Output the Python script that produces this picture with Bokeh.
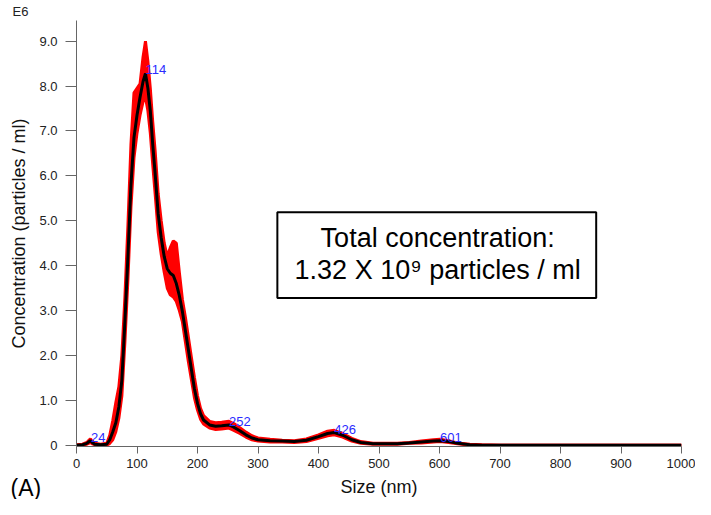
from bokeh.plotting import figure
from bokeh.models import Range1d, FixedTicker, Label, BoxAnnotation, ColumnDataSource, Title
from bokeh.embed import file_html
from bokeh.resources import INLINE
from bokeh.core.properties import value

# ---- data ----
size_nm = [0, 10, 17, 20, 23, 26, 30, 40, 50, 55, 60, 65, 70, 75, 80, 85, 90, 95,
           100, 105, 110, 114, 118, 122, 126, 130, 135, 140, 145, 150, 155, 160,
           165, 170, 175, 180, 185, 190, 195, 200, 205, 210, 220, 230, 240, 252,
           260, 270, 280, 290, 300, 320, 340, 360, 380, 400, 415, 426, 440, 455,
           470, 490, 510, 530, 550, 570, 590, 601, 615, 630, 650, 670, 700, 800,
           900, 1000]
conc_mean = [0.00, 0.01, 0.04, 0.07, 0.10, 0.06, 0.02, 0.01, 0.02, 0.12, 0.30, 0.50,
             0.85, 1.45, 2.75, 4.20, 5.80, 6.85, 7.35, 7.75, 8.10, 8.28, 7.95, 7.45,
             6.70, 6.05, 5.15, 4.62, 4.20, 3.93, 3.83, 3.78, 3.60, 3.33, 2.98, 2.55,
             2.12, 1.68, 1.25, 0.93, 0.70, 0.56, 0.45, 0.42, 0.43, 0.45, 0.40, 0.32,
             0.23, 0.16, 0.12, 0.10, 0.09, 0.08, 0.11, 0.19, 0.26, 0.28, 0.22, 0.12,
             0.06, 0.03, 0.03, 0.03, 0.05, 0.07, 0.09, 0.10, 0.08, 0.04, 0.01, 0.00,
             0.00, 0.00, 0.00, 0.00]
conc_upper = [0.01, 0.02, 0.06, 0.10, 0.14, 0.09, 0.04, 0.02, 0.04, 0.22, 0.55, 0.95,
              1.30, 2.00, 3.30, 4.90, 6.70, 7.85, 7.95, 8.05, 8.65, 9.00, 8.55, 7.95,
              7.20, 6.55, 5.60, 5.00, 4.50, 4.20, 4.40, 4.55, 4.50, 3.85, 3.25, 2.85,
              2.40, 1.95, 1.50, 1.10, 0.82, 0.66, 0.53, 0.50, 0.51, 0.53, 0.48, 0.39,
              0.29, 0.21, 0.16, 0.13, 0.11, 0.10, 0.14, 0.23, 0.31, 0.33, 0.26, 0.15,
              0.08, 0.04, 0.04, 0.04, 0.06, 0.09, 0.12, 0.13, 0.10, 0.05, 0.02, 0.01,
              0.00, 0.00, 0.00, 0.00]
conc_lower = [0.00, 0.00, 0.02, 0.04, 0.06, 0.03, 0.01, 0.00, 0.00, 0.04, 0.12, 0.30,
              0.60, 1.10, 2.30, 3.70, 5.30, 6.40, 6.95, 7.35, 7.65, 7.75, 7.45, 6.95,
              6.25, 5.60, 4.75, 4.25, 3.85, 3.50, 3.35, 3.30, 3.20, 3.00, 2.75, 2.30,
              1.85, 1.45, 1.05, 0.78, 0.58, 0.47, 0.38, 0.35, 0.36, 0.38, 0.33, 0.26,
              0.18, 0.12, 0.09, 0.07, 0.07, 0.06, 0.08, 0.15, 0.21, 0.23, 0.18, 0.09,
              0.04, 0.02, 0.02, 0.02, 0.04, 0.05, 0.07, 0.08, 0.06, 0.03, 0.00, 0.00,
              0.00, 0.00, 0.00, 0.00]

peak_sizes = [24, 114, 252, 426, 601]
peak_heights = [0.10, 8.28, 0.45, 0.28, 0.10]
peak_labels = ["24", "114", "252", "426", "601"]

x_ticks = [0, 100, 200, 300, 400, 500, 600, 700, 800, 900, 1000]
y_ticks = [0, 1, 2, 3, 4, 5, 6, 7, 8, 9]
y_tick_labels = ["0", "1.0", "2.0", "3.0", "4.0", "5.0", "6.0", "7.0", "8.0", "9.0"]

FONT = "Liberation Sans"

p = figure(width=695, height=499, output_backend="svg", toolbar_location=None,
           x_range=Range1d(0, 1000), y_range=Range1d(-0.03, 9.46),
           min_border_left=76, min_border_right=14, min_border_top=20,
           min_border_bottom=52)
p.outline_line_color = None
p.grid.visible = False
p.background_fill_color = "white"

src = ColumnDataSource(dict(x=size_nm, m=conc_mean, u=conc_upper, l=conc_lower))
p.varea(x="x", y1="l", y2="u", source=src, fill_color="#ff0000")
p.line(x="x", y="u", source=src, line_color="#ff0000", line_width=3)
p.line(x="x", y="l", source=src, line_color="#ff0000", line_width=3)
p.line(x="x", y="m", source=src, line_color="black", line_width=3)

psrc = ColumnDataSource(dict(x=peak_sizes, y=peak_heights, t=peak_labels))
p.text(x="x", y="y", text="t", source=psrc, text_color="#2b2bff",
       text_font=value(FONT), text_font_size="13px", text_align="left",
       text_baseline="bottom", y_offset=1)

# axes
for ax in (p.xaxis[0], p.yaxis[0]):
    ax.axis_line_color = "#666666"
    ax.major_tick_line_color = "#666666"
    ax.minor_tick_line_color = None
    ax.major_tick_in = 0
    ax.major_label_text_font = FONT
    ax.major_label_text_font_size = "13px"
    ax.major_label_text_color = "#222222"
    ax.axis_label_text_font = FONT
    ax.axis_label_text_font_size = "18px"
    ax.axis_label_text_font_style = "normal"
    ax.axis_label_text_color = "#111111"

p.xaxis.ticker = FixedTicker(ticks=x_ticks)
p.xaxis.major_tick_out = 7
p.xaxis.major_label_standoff = 5
p.xaxis.axis_label = "Size (nm)"
p.xaxis.axis_label_standoff = 6

p.yaxis.ticker = FixedTicker(ticks=y_ticks)
p.yaxis.major_label_overrides = {t: s for t, s in zip(y_ticks, y_tick_labels)}
p.yaxis.major_tick_out = 11
p.yaxis.major_label_standoff = 8
p.yaxis.axis_label = "Concentration (particles / ml)"
p.yaxis.axis_label_standoff = 7

# "E6" multiplier, above the y axis
p.add_layout(Title(text="E6", align="left", offset=-64, standoff=3,
                   text_font=FONT, text_font_size="13px",
                   text_font_style="normal", text_color="#222222"), "above")

# panel tag "(A)" at the bottom-left corner, on the row of the x axis label
p.add_layout(Title(text="(A)", align="left", offset=-66, standoff=-50,
                   vertical_align="top",
                   text_font=FONT, text_font_size="23px",
                   text_font_style="normal", text_color="black"), "below")

p.add_layout(BoxAnnotation(left=332, right=859, top=5.19, bottom=3.28,
                           fill_color="white", fill_alpha=1.0,
                           line_color="black", line_alpha=1.0, line_width=2))
p.add_layout(Label(x=597, y=4.61, text="Total concentration:", text_font=FONT,
                   text_font_size="27px", text_color="black",
                   text_align="center", text_baseline="middle"))
p.add_layout(Label(x=597, y=3.90, text="1.32 X 10\u2079 particles / ml",
                   text_font=FONT, text_font_size="27px", text_color="black",
                   text_align="center", text_baseline="middle"))

open("out.html", "w").write(file_html(p, INLINE))
